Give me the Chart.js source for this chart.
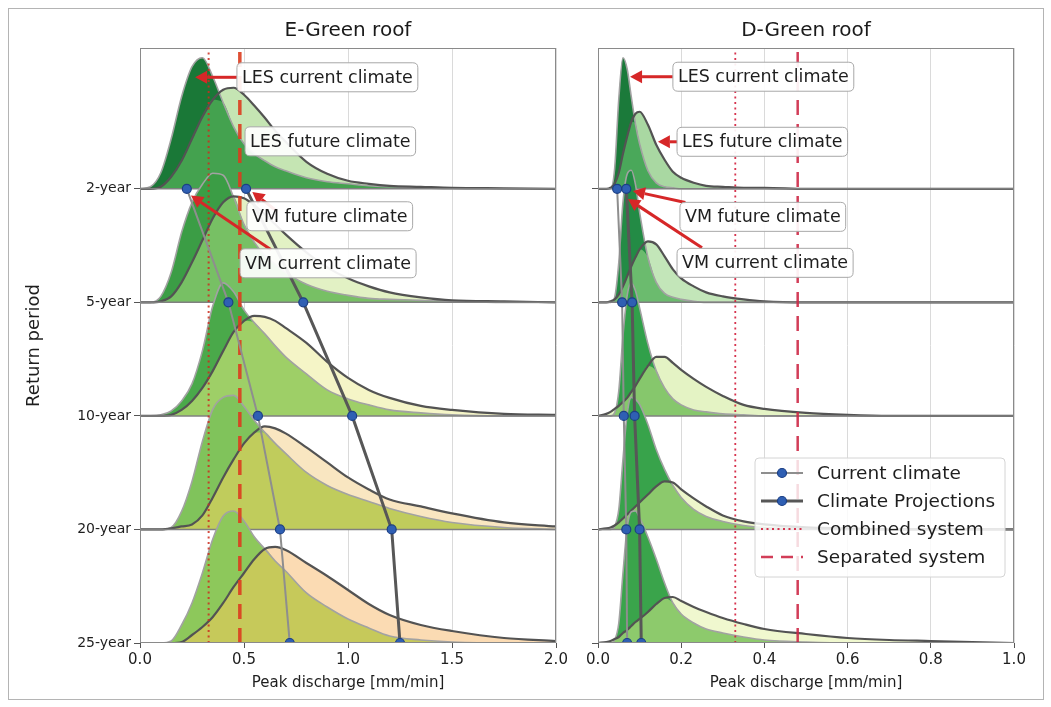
<!DOCTYPE html>
<html><head><meta charset="utf-8">
<script src="https://cdn.jsdelivr.net/npm/chart.js@4.4.1/dist/chart.umd.min.js"></script>
<style>
html,body{margin:0;padding:0;background:#fff;}
#wrap{position:relative;width:1051px;height:707px;overflow:hidden;background:#fff;}
#frame{position:absolute;left:8px;top:8px;width:1034px;height:690px;border:1px solid #b4b4b4;}
canvas{position:absolute;top:0;}
#cE{left:0;} #cD{left:577px;}
</style></head><body>
<div id="wrap"><div id="frame"></div>
<canvas id="cE" width="577" height="707"></canvas>
<canvas id="cD" width="474" height="707"></canvas>
</div>
<script>
// ---------------- DATA ----------------
const RETURN_PERIODS = ['2-year', '5-year', '10-year', '20-year', '25-year'];
const COMBINED_SYSTEM = 0.33;   // mm/min
const SEPARATED_SYSTEM = 0.48;  // mm/min

// E-Green roof: peak discharge grid and LES densities (one row per return period)
const E_X = [0, 0.05, 0.1, 0.15, 0.2, 0.25, 0.3, 0.35, 0.4, 0.45, 0.5, 0.55, 0.6, 0.65, 0.7, 0.8, 0.9, 1.0, 1.1, 1.2, 1.35, 1.5, 1.75, 2.0];
const E_LES_CURRENT = [
  [0, 2, 16, 50, 92, 122, 131, 112, 86, 62, 45, 35, 28, 22, 18, 11, 7, 5, 3, 2, 1, 0, 0, 0],
  [0, 0, 6, 30, 70, 100, 118, 129, 127, 105, 78, 60, 47, 38, 30, 18, 11, 7, 4, 3, 2, 1, 0, 0],
  [0, 0, 1, 5, 15, 32, 65, 110, 133, 124, 106, 93, 82, 70, 59, 42, 26, 17, 11, 6, 3, 1, 0, 0],
  [0, 0, 0, 2, 18, 48, 88, 120, 132, 134, 123, 109, 97, 86, 76, 57, 44, 35, 28, 21, 13, 7, 2, 0],
  [0, 0, 0, 2, 18, 40, 70, 104, 127, 132, 122, 106, 94, 82, 72, 50, 36, 24, 15, 7, 3, 1, 0, 0]
];
const E_LES_FUTURE = [
  [0, 0, 2, 12, 28, 50, 72, 89, 99, 101, 94, 83, 71, 58, 47, 27, 15, 8, 5, 3, 2, 1, 0.5, 0],
  [0, 0, 1, 6, 20, 40, 62, 84, 100, 106, 104, 97, 88, 78, 68, 50, 35, 24, 16, 10, 5, 2, 1, 0],
  [0, 0, 0, 1, 6, 15, 28, 45, 65, 84, 95, 100, 99, 95, 88, 73, 54, 38, 26, 18, 10, 6, 2, 1],
  [0, 0, 0, 1, 3, 5, 14, 32, 52, 70, 86, 97, 103, 101, 96, 82, 67, 52, 40, 30, 23, 16, 7, 3],
  [0, 0, 0, 0, 1, 8, 16, 26, 40, 56, 70, 84, 94, 96, 93, 80, 67, 53, 39, 28, 18, 12, 5, 2]
];
const E_VM_CURRENT = [0.225, 0.425, 0.567, 0.673, 0.72];
const E_VM_PROJECTIONS = [0.51, 0.785, 1.02, 1.21, 1.25];

// D-Green roof
const D_X = [0, 0.02, 0.03, 0.04, 0.05, 0.06, 0.07, 0.08, 0.09, 0.1, 0.12, 0.14, 0.16, 0.18, 0.2, 0.23, 0.26, 0.3, 0.35, 0.4, 0.5, 0.6, 0.7, 0.8, 1.0];
const D_LES_CURRENT = [
  [0, 0, 0, 20, 90, 131, 120, 92, 65, 45, 18, 6, 2, 1, 0, 0, 0, 0, 0, 0, 0, 0, 0, 0, 0],
  [0, 0, 0, 5, 40, 100, 128, 132, 118, 90, 45, 20, 9, 5, 3, 1, 0, 0, 0, 0, 0, 0, 0, 0, 0],
  [0, 0, 0, 3, 25, 80, 120, 133, 125, 108, 72, 45, 28, 17, 11, 6, 4, 2, 1, 0, 0, 0, 0, 0, 0],
  [0, 0, 0, 3, 20, 70, 115, 132, 130, 125, 105, 80, 60, 44, 32, 20, 13, 8, 4, 2, 1, 0, 0, 0, 0],
  [0, 0, 0, 3, 20, 70, 115, 131, 132, 125, 106, 84, 60, 40, 29, 20, 14, 10, 6, 3, 1, 0, 0, 0, 0]
];
const D_LES_FUTURE = [
  [0, 0, 1, 5, 16, 35, 52, 67, 75, 77, 64, 44, 29, 17, 11, 6, 3, 2, 1, 1, 0, 0, 0, 0, 0],
  [0, 0, 1, 3, 8, 16, 26, 36, 45, 53, 61, 58, 46, 33, 24, 16, 10, 6, 3, 1, 0, 0, 0, 0, 0],
  [0, 2, 4, 7, 10, 14, 18, 24, 30, 37, 50, 59, 59, 53, 46, 37, 29, 20, 11, 7, 3, 1, 0, 0, 0],
  [0, 1, 2, 4, 7, 11, 15, 19, 23, 27, 35, 43, 48, 47, 40, 31, 23, 14, 8, 5, 2, 1, 0, 0, 0],
  [0, 1, 2, 4, 6, 10, 13, 17, 21, 24, 31, 39, 45, 46, 42, 36, 31, 25, 19, 14, 9, 5, 3, 2, 0]
];
const D_VM_CURRENT = [0.046, 0.058, 0.062, 0.068, 0.07];
const D_VM_PROJECTIONS = [0.068, 0.082, 0.088, 0.1, 0.104];

const E_TICKS = [0, 0.5, 1.0, 1.5, 2.0];
const D_TICKS = [0, 0.2, 0.4, 0.6, 0.8, 1.0];

// ---------------- STYLE ----------------
const FONT = 'DejaVu Sans';
const DENSITY_PER_ROW = 113.5;
const Y_TOP = 5.24;
Chart.defaults.font.family = FONT;
Chart.defaults.color = '#1e1e1e';

const E_COLORS = {
  cur: ['#1a7837', '#3b9d45', '#4aa94a', '#80c35b', '#8dc85b'],
  ov:  ['#44a24f', '#77c064', '#9ecf67', '#c0cc5c', '#c6c95a'],
  fut: ['#c5e5b3', '#e2f1c4', '#f5f5c7', '#f9e6c1', '#fbdbb3']
};
const D_COLORS = {
  cur: ['#1b7a3a', '#238b45', '#31a04a', '#38a34b', '#3aa44b'],
  ov:  ['#4aa85a', '#6bbb6e', '#86c76c', '#8cc96c', '#8dca6c'],
  fut: ['#a9d8a2', '#c3e6b9', '#e4f3c4', '#edf6cb', '#f0f8cf']
};

const E_NOTES = [
  {text: 'LES current climate', x: 0.466, y: 4.982, from: [0.466, 4.982], to: [0.265, 4.982]},
  {text: 'LES future climate', x: 0.505, y: 4.418},
  {text: 'VM future climate', x: 0.514, y: 3.758, from: [0.66, 3.80], to: [0.54, 3.972]},
  {text: 'VM current climate', x: 0.481, y: 3.344, from: [0.63, 3.463], to: [0.245, 3.94]}
];
const D_NOTES = [
  {text: 'LES current climate', x: 0.180, y: 4.987, from: [0.180, 4.987], to: [0.077, 4.987]},
  {text: 'LES future climate', x: 0.190, y: 4.414, from: [0.19, 4.414], to: [0.144, 4.414]},
  {text: 'VM future climate', x: 0.197, y: 3.753, from: [0.21, 3.88], to: [0.084, 3.98]},
  {text: 'VM current climate', x: 0.190, y: 3.348, from: [0.25, 3.48], to: [0.072, 3.91]}
];

function drawArrow(ctx, x0, y0, x1, y1) {
  const ang = Math.atan2(y1 - y0, x1 - x0);
  const hl = 12, hw = 6.5;
  const bx = x1 - hl * Math.cos(ang), by = y1 - hl * Math.sin(ang);
  ctx.strokeStyle = '#d62728'; ctx.fillStyle = '#d62728'; ctx.lineWidth = 3;
  ctx.beginPath(); ctx.moveTo(x0, y0); ctx.lineTo(bx, by); ctx.stroke();
  ctx.beginPath();
  ctx.moveTo(x1, y1);
  ctx.lineTo(bx + hw * Math.sin(ang), by - hw * Math.cos(ang));
  ctx.lineTo(bx - hw * Math.sin(ang), by + hw * Math.cos(ang));
  ctx.closePath(); ctx.fill();
}
function roundRect(ctx, x, y, w, h, r) {
  ctx.beginPath();
  ctx.moveTo(x + r, y); ctx.lineTo(x + w - r, y); ctx.quadraticCurveTo(x + w, y, x + w, y + r);
  ctx.lineTo(x + w, y + h - r); ctx.quadraticCurveTo(x + w, y + h, x + w - r, y + h);
  ctx.lineTo(x + r, y + h); ctx.quadraticCurveTo(x, y + h, x, y + h - r);
  ctx.lineTo(x, y + r); ctx.quadraticCurveTo(x, y, x + r, y); ctx.closePath();
}

function buildPanel(canvasId, cfg) {
  const nRows = RETURN_PERIODS.length;
  const ds = [];
  for (let r = 0; r < nRows; r++) {
    const base = nRows - 1 - r;
    const pts = arr => cfg.grid.map((x, i) => ({x, y: base + arr[i] / DENSITY_PER_ROW}));
    const ov = cfg.cur[r].map((v, i) => Math.min(v, cfg.fut[r][i]));
    const fillDs = (arr, color) => ({data: pts(arr), fill: {value: base}, backgroundColor: color,
      borderWidth: 0, borderColor: 'rgba(0,0,0,0)', pointRadius: 0, cubicInterpolationMode: 'monotone'});
    const lineDs = (arr, color, w) => ({data: pts(arr), fill: false, borderColor: color,
      borderWidth: w, pointRadius: 0, cubicInterpolationMode: 'monotone'});
    ds.push(fillDs(cfg.fut[r], cfg.colors.fut[r]));
    ds.push(fillDs(cfg.cur[r], cfg.colors.cur[r]));
    ds.push(fillDs(ov, cfg.colors.ov[r]));
    ds.push(lineDs(cfg.cur[r], '#a2a2a2', 1.6));
    ds.push(lineDs(cfg.fut[r], '#535353', 2.2));
    ds.push({data: [{x: 0, y: base}, {x: cfg.xMax, y: base}], fill: false, borderColor: '#808080',
      borderWidth: 1.5, pointRadius: 0});
  }
  const combined = {label: 'Combined system', data: [{x: COMBINED_SYSTEM, y: 0}, {x: COMBINED_SYSTEM, y: Y_TOP}],
    fill: false, borderColor: cfg.red.dotColor, borderWidth: cfg.red.dotW, borderDash: [2, 3.5], pointRadius: 0};
  const separated = {label: 'Separated system', data: [{x: SEPARATED_SYSTEM, y: 0}, {x: SEPARATED_SYSTEM, y: Y_TOP}],
    fill: false, borderColor: cfg.red.dashColor, borderWidth: cfg.red.dashW, borderDash: [15, 9], pointRadius: 0};
  ds.push(combined, separated);
  const vmCur = {label: 'Current climate', data: cfg.vmCur.map((x, i) => ({x, y: nRows - 1 - i})), fill: false,
    borderColor: '#8e8e8e', borderWidth: 2, pointRadius: 4.5, pointBackgroundColor: '#2f5fb3',
    pointBorderColor: '#1b3f85', pointBorderWidth: 1.2, tension: 0};
  const vmFut = {label: 'Climate Projections', data: cfg.vmFut.map((x, i) => ({x, y: nRows - 1 - i})), fill: false,
    borderColor: '#575757', borderWidth: 3, pointRadius: 4.5, pointBackgroundColor: '#2f5fb3',
    pointBorderColor: '#1b3f85', pointBorderWidth: 1.2, tension: 0};
  ds.push(vmCur, vmFut);
  ds.forEach((d, k) => { d.order = ds.length - k; });

  const decor = {
    id: 'decor',
    afterDraw(chart) {
      const {ctx, chartArea: a, scales: {x, y}} = chart;
      ctx.save();
      ctx.strokeStyle = '#8a8a8a'; ctx.lineWidth = 1;
      ctx.strokeRect(a.left + 0.5, a.top + 0.5, a.right - a.left - 1, a.bottom - a.top - 1);
      ctx.fillStyle = '#1a1a1a'; ctx.font = `20px ${FONT}`; ctx.textAlign = 'center'; ctx.textBaseline = 'middle';
      ctx.fillText(cfg.title, (a.left + a.right) / 2, 31);
      ctx.font = `17.5px ${FONT}`;
      for (const n of cfg.notes) {
        if (n.from) drawArrow(ctx, x.getPixelForValue(n.from[0]), y.getPixelForValue(n.from[1]),
          x.getPixelForValue(n.to[0]), y.getPixelForValue(n.to[1]));
      }
      for (const n of cfg.notes) {
        const bx = x.getPixelForValue(n.x), cy = y.getPixelForValue(n.y);
        const w = ctx.measureText(n.text).width + 10, h = 29;
        roundRect(ctx, bx, cy - h / 2, w, h, 5);
        ctx.fillStyle = 'rgba(255,255,255,0.92)'; ctx.fill();
        ctx.strokeStyle = '#a8a8a8'; ctx.lineWidth = 1; ctx.stroke();
        ctx.fillStyle = '#1e1e1e'; ctx.textAlign = 'left'; ctx.textBaseline = 'middle';
        ctx.fillText(n.text, bx + 5, cy + 1);
      }
      if (cfg.legend) {
        const lx = a.left + 157, ly = a.top + 410, lw = 250, lh = 119;
        roundRect(ctx, lx, ly, lw, lh, 4);
        ctx.fillStyle = 'rgba(255,255,255,0.82)'; ctx.fill();
        ctx.strokeStyle = '#d4d4d4'; ctx.lineWidth = 1; ctx.stroke();
        const items = [vmCur, vmFut, combined, separated];
        items.forEach((it, i) => {
          const yy = ly + 15 + i * 28;
          ctx.save();
          ctx.strokeStyle = it.borderColor; ctx.lineWidth = it.borderWidth;
          ctx.setLineDash(i === 2 ? [2, 3.5] : i === 3 ? [12, 8] : []);
          ctx.beginPath(); ctx.moveTo(lx + 6, yy); ctx.lineTo(lx + 48, yy); ctx.stroke();
          ctx.restore();
          if (it.pointRadius) {
            ctx.beginPath(); ctx.arc(lx + 27, yy, 4.5, 0, Math.PI * 2);
            ctx.fillStyle = it.pointBackgroundColor; ctx.fill();
            ctx.strokeStyle = it.pointBorderColor; ctx.lineWidth = 1.2; ctx.stroke();
          }
          ctx.fillStyle = '#1e1e1e'; ctx.font = `18.5px ${FONT}`; ctx.textAlign = 'left'; ctx.textBaseline = 'middle';
          ctx.fillText(it.label, lx + 62, yy + 1);
        });
      }
      ctx.restore();
    }
  };

  return new Chart(document.getElementById(canvasId), {
    type: 'line',
    data: {datasets: ds},
    options: {
      responsive: false, animation: false, devicePixelRatio: 1,
      layout: {padding: {top: 48, right: cfg.padRight, bottom: 0, left: 0}},
      plugins: {legend: {display: false}, tooltip: {enabled: false}, title: {display: false}},
      scales: {
        x: {
          type: 'linear', min: 0, max: cfg.xMax,
          afterBuildTicks: s => { s.ticks = cfg.xTicks.map(v => ({value: v})); },
          ticks: {callback: v => Number(v).toFixed(1), font: {size: 15}, color: '#1e1e1e', padding: 3,
            maxRotation: 0, autoSkip: false},
          grid: {color: '#dadada', lineWidth: 1, tickColor: '#555', tickLength: 5},
          border: {display: false},
          title: {display: true, text: 'Peak discharge [mm/min]', font: {size: 15}, color: '#1e1e1e',
            padding: {top: 0, bottom: 15}},
          afterFit: s => { s.height = 64; }
        },
        y: {
          type: 'linear', min: 0, max: Y_TOP,
          afterBuildTicks: s => { s.ticks = RETURN_PERIODS.map((_, i) => ({value: i})); },
          ticks: {callback: v => cfg.yLabels ? RETURN_PERIODS[RETURN_PERIODS.length - 1 - v] : '',
            font: {size: 14}, color: '#1e1e1e', padding: 3, autoSkip: false},
          grid: {drawOnChartArea: false, tickColor: '#555', tickLength: 6},
          border: {display: false},
          title: {display: cfg.yLabels, text: 'Return period', font: {size: 18}, color: '#1e1e1e',
            padding: {top: 24, bottom: 0}},
          afterFit: s => { s.width = cfg.yWidth; }
        }
      }
    },
    plugins: [decor]
  });
}

buildPanel('cE', {
  title: 'E-Green roof', grid: E_X, cur: E_LES_CURRENT, fut: E_LES_FUTURE,
  vmCur: E_VM_CURRENT, vmFut: E_VM_PROJECTIONS, colors: E_COLORS, xMax: 2.0, xTicks: E_TICKS,
  yWidth: 140, padRight: 21, yLabels: true, notes: E_NOTES, legend: false,
  red: {dotColor: 'rgba(205,45,30,0.85)', dotW: 2, dashColor: 'rgba(220,60,30,0.9)', dashW: 3.5}
});
buildPanel('cD', {
  title: 'D-Green roof', grid: D_X, cur: D_LES_CURRENT, fut: D_LES_FUTURE,
  vmCur: D_VM_CURRENT, vmFut: D_VM_PROJECTIONS, colors: D_COLORS, xMax: 1.0, xTicks: D_TICKS,
  yWidth: 21, padRight: 37, yLabels: false, notes: D_NOTES, legend: true,
  red: {dotColor: 'rgba(210,30,60,0.9)', dotW: 1.8, dashColor: 'rgba(205,40,70,0.9)', dashW: 2.5}
});
</script></body></html>
